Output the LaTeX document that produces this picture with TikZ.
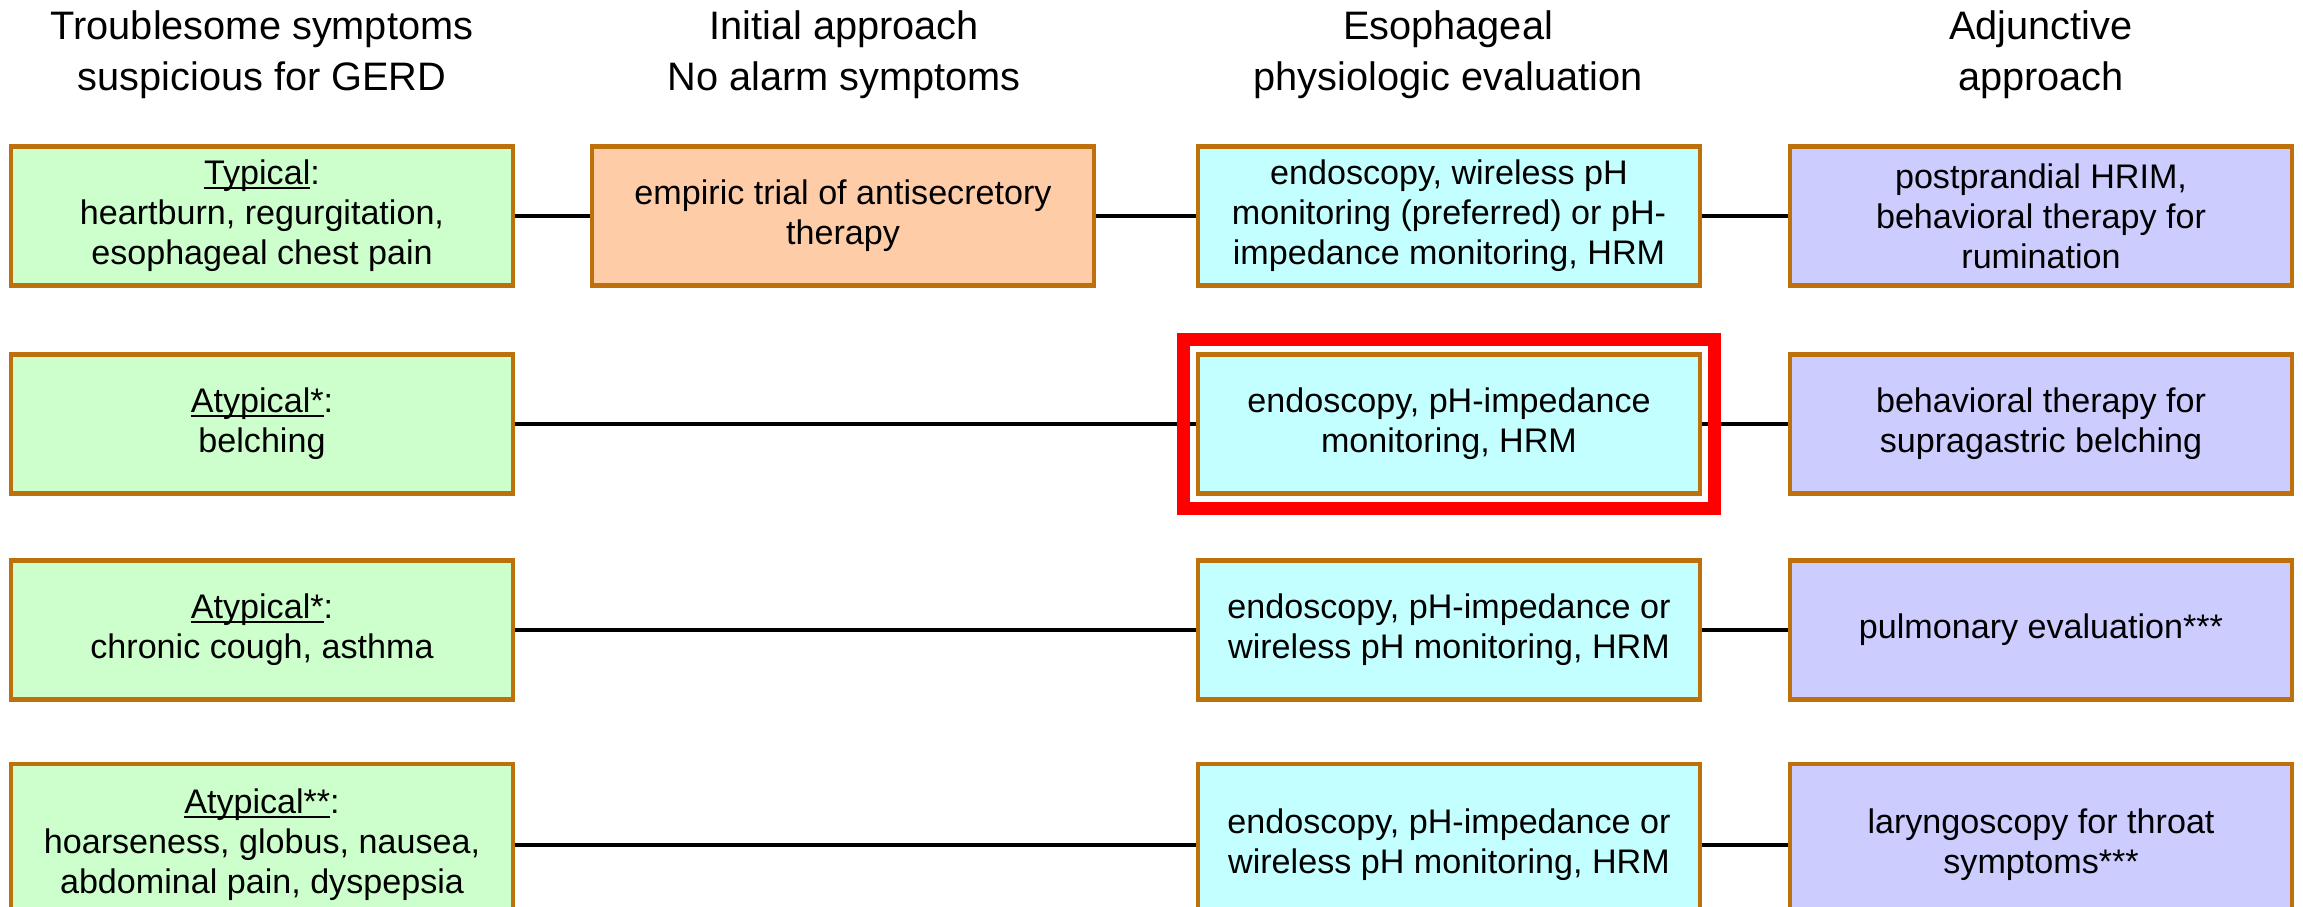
\documentclass[tikz,border=0pt]{standalone}
\usepackage{fontspec}
\setmainfont{Liberation Sans}
\usetikzlibrary{fit}
\definecolor{boxborder}{RGB}{190,112,10}
\definecolor{greenfill}{RGB}{204,255,204}
\definecolor{orangefill}{RGB}{255,204,168}
\definecolor{cyanfill}{RGB}{196,255,255}
\definecolor{purplefill}{RGB}{204,204,255}
\definecolor{framered}{RGB}{255,0,0}
\newcommand\myul[1]{\setbox0\hbox{#1}\rlap{\rule[-1.3pt]{\wd0}{0.55pt}}\box0}
\begin{document}
\begin{tikzpicture}[x=0.01cm,y=-0.01cm,
  box/.style={draw=boxborder,line width=1.3pt,align=center,minimum width=5.02cm,minimum height=1.39cm,inner sep=0pt,font=\fontsize{9.7}{11.4}\selectfont},
  gbox/.style={box,fill=greenfill},
  obox/.style={box,fill=orangefill},
  cbox/.style={box,fill=cyanfill},
  pbox/.style={box,fill=purplefill},
  tall/.style={minimum height=1.62cm},
  hdr/.style={align=center,font=\fontsize{11.3}{14.4}\selectfont,inner sep=0pt},
  link/.style={draw=black,line width=1pt},
  hilite/.style={draw=framered,line width=3.7pt,inner xsep=0.125cm,inner ysep=0.13cm}]
\useasboundingbox (0,0) rectangle (2303,907);
% headers
\node[hdr] (h1) at (262,55) {Troublesome symptoms\\suspicious for GERD};
\node[hdr] (h2) at (844,55) {Initial approach\\No alarm symptoms};
\node[hdr] (h3) at (1448,55) {Esophageal\\physiologic evaluation};
\node[hdr] (h4) at (2041,55) {Adjunctive\\approach};
% row 1
\node[gbox] (g1) at (262,216) {\myul{Typical}:\\heartburn, regurgitation,\\esophageal chest pain};
\node[obox] (o1) at (843,216) {empiric trial of antisecretory\\therapy};
\node[cbox] (c1) at (1449,216) {endoscopy, wireless pH\\monitoring (preferred) or pH-\\impedance monitoring, HRM};
\node[pbox] (p1) at (2041,216) {postprandial HRIM,\\behavioral therapy for\\rumination};
% row 2
\node[gbox] (g2) at (262,424) {\myul{Atypical*}:\\belching};
\node[cbox] (c2) at (1449,424) {endoscopy, pH-impedance\\monitoring, HRM};
\node[pbox] (p2) at (2041,424) {behavioral therapy for\\supragastric belching};
% row 3
\node[gbox] (g3) at (262,630) {\myul{Atypical*}:\\chronic cough, asthma};
\node[cbox] (c3) at (1449,630) {endoscopy, pH-impedance or\\wireless pH monitoring, HRM};
\node[pbox] (p3) at (2041,630) {pulmonary evaluation***};
% row 4
\node[gbox,tall] (g4) at (262,845) {\myul{Atypical**}:\\hoarseness, globus, nausea,\\abdominal pain, dyspepsia};
\node[cbox,tall] (c4) at (1449,845) {endoscopy, pH-impedance or\\wireless pH monitoring, HRM};
\node[pbox,tall] (p4) at (2041,845) {laryngoscopy for throat\\symptoms***};
% connectors
\draw[link] (g1) -- (o1);
\draw[link] (o1) -- (c1);
\draw[link] (c1) -- (p1);
\draw[link] (g2) -- (c2);
\draw[link] (c2) -- (p2);
\draw[link] (g3) -- (c3);
\draw[link] (c3) -- (p3);
\draw[link] (g4) -- (c4);
\draw[link] (c4) -- (p4);
% highlight frame
\node[hilite,fit=(c2)] (hl) {};
\end{tikzpicture}
\end{document}
